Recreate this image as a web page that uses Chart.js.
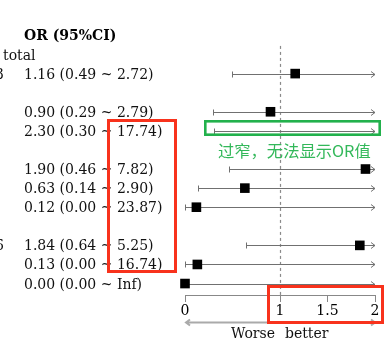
<!DOCTYPE html>
<html>
<head>
<meta charset="utf-8">
<script src="https://cdn.jsdelivr.net/npm/chart.js@4.4.1/dist/chart.umd.min.js"></script>
<style>
  body { margin: 0; background: #fff; }
  canvas { display: block; }
</style>
</head>
<body>
<canvas id="forest" width="387" height="344"></canvas>
<script>
// one entry per table row, null = empty row
const rowKeys = ['header', 'total', 'r1', 'gap1', 'r2', 'r3', 'gap2', 'r4', 'r5', 'r6', 'gap3', 'r7', 'r8', 'r9'];
const sideLabels = ['', 'total', '3', '', '', '', '', '', '', '', '', '6', '', ''];
const orValues = [null, null, 1.16, null, 0.90, 2.30, null, 1.90, 0.63, 0.12, null, 1.84, 0.13, 0.00];
const lowerCI = [null, null, 0.49, null, 0.29, 0.30, null, 0.46, 0.14, 0.00, null, 0.64, 0.00, 0.00];
const upperCI = [null, null, 2.72, null, 2.79, 17.74, null, 7.82, 2.90, 23.87, null, 5.25, 16.74, Infinity];
const xTicks = [0, 1, 1.5, 2];
const headerText = 'OR (95%CI)';
const worseText = 'Worse';
const betterText = 'better';
const noteText = '过窄，无法显示OR值';

const serif = '"DejaVu Serif", serif';

function fmt(v) {
  return v === Infinity ? 'Inf' : v.toFixed(2);
}

function orLabel(i) {
  if (orValues[i] === null) return '';
  return `${fmt(orValues[i])} (${fmt(lowerCI[i])} ~ ${fmt(upperCI[i])})`;
}

const points = [];
orValues.forEach((v, i) => {
  if (v !== null) points.push({ x: v, y: i });
});

const forestPlugin = {
  id: 'forest',
  beforeDatasetsDraw(chart) {
    const ctx = chart.ctx;
    const xs = chart.scales.x;
    const ys = chart.scales.y;
    ctx.save();

    // dashed line at OR = 1
    const x1 = Math.round(xs.getPixelForValue(1)) + 0.5;
    ctx.strokeStyle = '#8a8a8a';
    ctx.lineWidth = 1.2;
    ctx.setLineDash([3, 3]);
    ctx.beginPath();
    ctx.moveTo(x1, ys.getPixelForValue(0.55));
    ctx.lineTo(x1, chart.chartArea.bottom);
    ctx.stroke();
    ctx.setLineDash([]);

    // confidence intervals
    ctx.strokeStyle = '#707070';
    ctx.lineWidth = 1;
    orValues.forEach((v, i) => {
      if (v === null) return;
      const py = Math.round(ys.getPixelForValue(i)) + 0.5;
      const lo = Math.round(xs.getPixelForValue(Math.max(lowerCI[i], xs.min))) + 0.5;
      const over = upperCI[i] > xs.max;
      const hi = xs.getPixelForValue(Math.min(upperCI[i], xs.max));
      ctx.beginPath();
      ctx.moveTo(lo, py);
      ctx.lineTo(hi, py);
      // whisker on the low end
      ctx.moveTo(lo, py - 3);
      ctx.lineTo(lo, py + 3);
      ctx.stroke();
      if (over) {
        ctx.beginPath();
        ctx.moveTo(hi - 4, py - 3);
        ctx.lineTo(hi, py);
        ctx.lineTo(hi - 4, py + 3);
        ctx.stroke();
      }
    });
    ctx.restore();
  },
  afterDraw(chart) {
    const ctx = chart.ctx;
    const xs = chart.scales.x;
    const ys = chart.scales.y;
    ctx.save();
    ctx.fillStyle = '#000';
    ctx.textBaseline = 'alphabetic';

    // text columns
    ctx.font = 'bold 14px ' + serif;
    ctx.textAlign = 'left';
    ctx.fillText(headerText, 24, ys.getPixelForValue(0) + 5);
    ctx.font = '14px ' + serif;
    ctx.fillStyle = '#111';
    rowKeys.forEach((k, i) => {
      const py = ys.getPixelForValue(i) + 5;
      const side = sideLabels[i];
      if (side === 'total') {
        ctx.textAlign = 'left';
        ctx.fillText(side, 3, py);
      } else if (side) {
        ctx.textAlign = 'right';
        ctx.fillText(side, 4, py);
      }
      ctx.textAlign = 'left';
      ctx.fillText(orLabel(i), 24, py);
    });

    // worse / better arrows under the axis
    const p0 = xs.getPixelForValue(xs.min);
    const p1 = xs.getPixelForValue(1);
    const p2 = xs.getPixelForValue(xs.max);
    const ay = 322.5;
    ctx.strokeStyle = '#aaa';
    ctx.lineWidth = 2;
    ctx.beginPath();
    ctx.moveTo(p1 - 1, ay); ctx.lineTo(p0 + 1, ay);
    ctx.moveTo(p0 + 5, ay - 3); ctx.lineTo(p0 + 1, ay); ctx.lineTo(p0 + 5, ay + 3);
    ctx.moveTo(p1 + 1, ay); ctx.lineTo(p2, ay);
    ctx.moveTo(p2 - 4, ay - 3); ctx.lineTo(p2, ay); ctx.lineTo(p2 - 4, ay + 3);
    ctx.stroke();
    ctx.fillStyle = '#111';
    ctx.font = '14px ' + serif;
    ctx.textAlign = 'right';
    ctx.fillText(worseText, p1 - 5, 338);
    ctx.textAlign = 'left';
    ctx.fillText(betterText, p1 + 5, 338);

    // highlight boxes added on top of the plot
    ctx.lineWidth = 3;
    ctx.strokeStyle = '#f8321c';
    ctx.strokeRect(108.5, 120.5, 67, 151);
    ctx.strokeRect(268.5, 286.5, 114, 36);
    ctx.strokeStyle = '#22b14c';
    ctx.lineWidth = 2.6;
    ctx.strokeRect(205.3, 121.3, 174.4, 13.4);
    ctx.fillStyle = '#33b85a';
    ctx.font = '16.3px "Noto Sans CJK SC", sans-serif';
    ctx.textAlign = 'left';
    ctx.textBaseline = 'middle';
    ctx.fillText(noteText, 218, 151);
    ctx.restore();
  }
};

const ctx = document.getElementById('forest').getContext('2d');
new Chart(ctx, {
  type: 'scatter',
  data: {
    datasets: [{
      data: points,
      pointStyle: 'rect',
      pointRadius: 6.8,
      pointHoverRadius: 6.8,
      backgroundColor: '#000',
      borderWidth: 0,
      clip: { left: 8, top: 8, right: 0, bottom: 8 }
    }]
  },
  options: {
    responsive: false,
    animation: false,
    events: [],
    layout: { padding: { left: 185, right: 12, top: 3, bottom: 0 } },
    plugins: { legend: { display: false }, tooltip: { enabled: false } },
    scales: {
      x: {
        type: 'linear',
        min: 0,
        max: 2,
        afterBuildTicks: (s) => { s.ticks = xTicks.map((v) => ({ value: v })); },
        afterFit: (s) => { s.height = 49; },
        ticks: {
          autoSkip: false,
          maxRotation: 0,
          padding: 1,
          color: '#000',
          font: { family: serif, size: 14 },
          callback: (v) => String(v)
        },
        grid: { drawOnChartArea: false, drawTicks: true, tickLength: 7, color: '#888' },
        border: { display: true, color: '#888' }
      },
      y: {
        type: 'linear',
        display: false,
        reverse: true,
        min: -1.5,
        max: 13.6
      }
    }
  },
  plugins: [forestPlugin]
});
</script>
</body>
</html>
